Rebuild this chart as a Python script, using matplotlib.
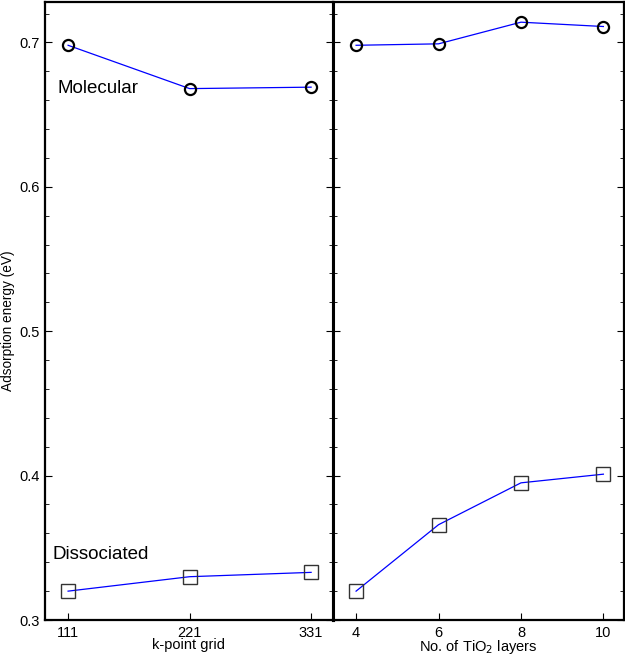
import numpy as np
import matplotlib.pyplot as plt

plt.rcParams['font.family'] = ['Liberation Sans', 'DejaVu Sans']

# k-point convergence
kpoints = ['111', '221', '331']
k_molecular = [0.698, 0.668, 0.669]
k_dissociated = [0.320, 0.330, 0.333]

# layer convergence
layers = [4, 6, 8, 10]
l_molecular = [0.698, 0.699, 0.714, 0.711]
l_dissociated = [0.320, 0.366, 0.395, 0.401]

fig = plt.figure(figsize=(6.25, 6.55), dpi=100)
ax1 = fig.add_axes([0.072, 0.0534, 0.4608, 0.9436])
ax2 = fig.add_axes([0.5328, 0.0534, 0.4656, 0.9436], sharey=ax1)

def style(ax):
    for s in ax.spines.values():
        s.set_linewidth(1.6)
    ax.tick_params(axis='y', which='both', direction='in', left=True, right=True, labelsize=10.5)
    ax.tick_params(axis='y', which='major', length=5)
    ax.tick_params(axis='y', which='minor', length=3)
    ax.tick_params(axis='x', direction='in', length=5, top=False, labelsize=10.5, pad=4)

xk = np.arange(len(kpoints))
ax1.plot(xk, k_molecular, '-', color='blue', lw=0.9, marker='o', ms=8, mfc='none', mec='black', mew=1.6)
ax1.plot(xk, k_dissociated, '-', color='blue', lw=0.9, marker='s', ms=10, mfc='none', mec='#333333', mew=1.0)
ax1.set_xticks(xk)
ax1.set_xticklabels(kpoints)
ax1.set_xlim(-0.19, 2.18)
ax1.set_ylim(0.3, 0.728)
ax1.set_yticks([0.3, 0.4, 0.5, 0.6, 0.7])
ax1.set_yticks(np.arange(0.3, 0.73, 0.02), minor=True)
ax1.set_xlabel('k-point grid', fontsize=10.5, labelpad=-1)
fig.text(8 / 625, 0.511, 'Adsorption energy (eV)', fontsize=9.8, rotation=90, ha='center', va='center')
ax1.text(-0.09, 0.665, 'Molecular', fontsize=13.5)
ax1.text(-0.13, 0.342, 'Dissociated', fontsize=13.5)
style(ax1)
ax1.spines['right'].set_linewidth(2.2)

ax2.plot(layers, l_molecular, '-', color='blue', lw=0.9, marker='o', ms=8, mfc='none', mec='black', mew=1.6)
ax2.plot(layers, l_dissociated, '-', color='blue', lw=0.9, marker='s', ms=10, mfc='none', mec='#333333', mew=1.0)
ax2.set_xticks(layers)
ax2.set_xlim(3.44, 10.5)
ax2.set_xlabel('No. of TiO$_2$ layers', fontsize=10.5, labelpad=-1)
style(ax2)
ax2.spines['left'].set_linewidth(2.2)
ax2.tick_params(axis='y', labelleft=False)

plt.savefig('out.png', dpi=100)
